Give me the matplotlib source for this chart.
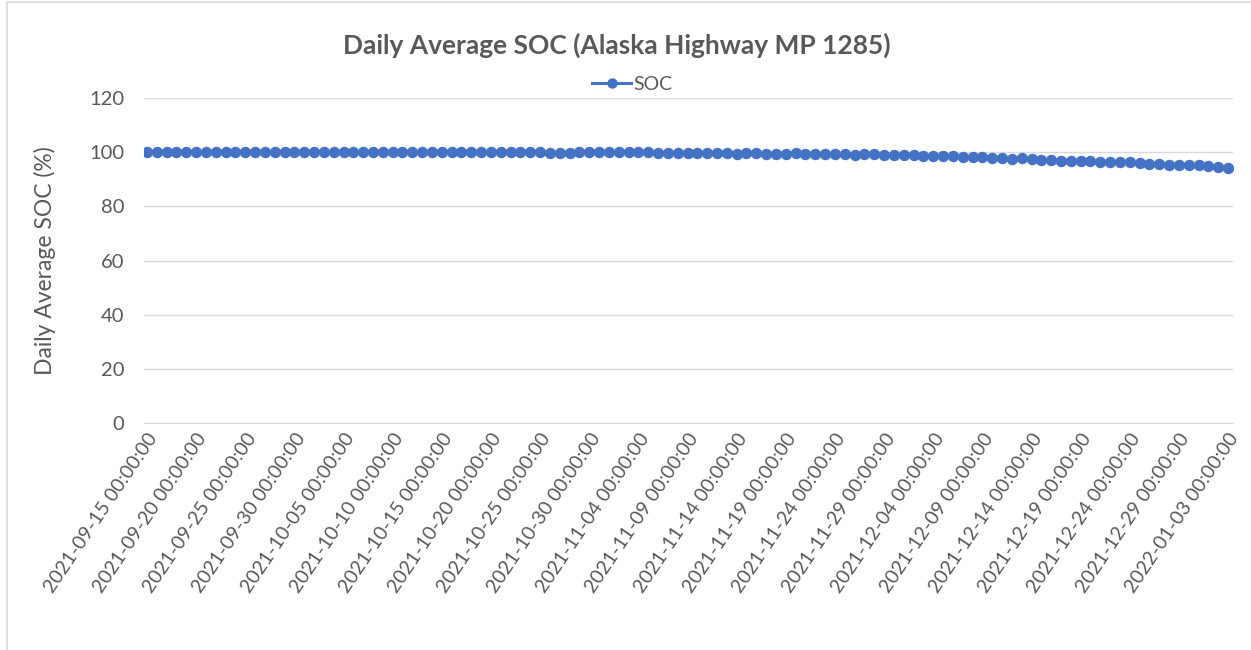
import pandas as pd
import matplotlib.pyplot as plt
from matplotlib.patches import Rectangle

plt.rcParams['font.family'] = ['Lato', 'DejaVu Sans']

# Data: daily average SOC, 2021-09-15 .. 2022-01-03
dates = pd.date_range('2021-09-15', '2022-01-03', freq='D')
soc = [
    100, 100, 100, 100, 100, 100, 100, 100, 100, 100,
    100, 100, 100, 100, 100, 100, 100, 100, 100, 100,
    100, 100, 100, 100, 100, 100, 100, 100, 100, 100,
    100, 100, 100, 100, 100, 100, 99.9, 100, 100, 100,
    99.9, 99.8, 99.6, 99.7, 99.9, 100, 99.9, 100, 99.9, 100,
    99.9, 99.9, 99.8, 99.7, 99.6, 99.6, 99.7, 99.6, 99.7, 99.6,
    99.5, 99.6, 99.6, 99.4, 99.2, 99.5, 99.6, 99.5, 99.4, 99.3,
    99.4, 99.2, 99.0, 99.3, 99.4, 99.1, 98.9, 98.8, 99.0, 98.7,
    98.6, 98.7, 98.5, 98.3, 98.1, 98.2, 98.0, 97.7, 97.5, 97.8,
    97.4, 97.2, 97.0, 96.8, 96.6, 96.9, 96.6, 96.3, 96.5, 96.2,
    96.3, 96.0, 95.8, 95.6, 95.4, 95.4, 95.2, 95.1, 94.8, 94.6, 94.3,
]
labels = [d.strftime('%Y-%m-%d %H:%M:%S') for d in dates]

gray = '#595959'
blue = '#4472C4'

fig = plt.figure(figsize=(12.51, 6.5), dpi=100)
ax = fig.add_axes([144 / 1251, 1 - 423 / 650, (1233 - 144) / 1251, (423 - 98) / 650])

x = list(range(len(soc)))
ax.plot(x, soc, color=blue, linewidth=2.2, marker='o', markersize=7.2, label='SOC')

ax.set_ylim(0, 120)
ax.set_yticks(range(0, 121, 20))
ax.set_xlim(-0.3, len(soc) - 1 + 0.5)
ax.set_xticks(x[::5])
ax.set_xticklabels(labels[::5], rotation=56, ha='right', rotation_mode='anchor',
                   fontsize=14, color=gray)
ax.tick_params(axis='y', labelsize=14.5, colors=gray, length=0, pad=14)
ax.tick_params(axis='x', length=0, pad=5)

ax.grid(axis='y', color='#d9d9d9', linewidth=1)
ax.set_axisbelow(True)
for s in ['top', 'right', 'left']:
    ax.spines[s].set_visible(False)
ax.spines['bottom'].set_color('#d9d9d9')

ax.set_ylabel('Daily Average SOC (%)', fontsize=16.5, color=gray, labelpad=24)

fig.text(617 / 1251, 1 - 45 / 650, 'Daily Average SOC (Alaska Highway MP 1285)',
         ha='center', va='center', fontsize=19, fontweight='bold', color=gray)
fig.legend(loc='center', bbox_to_anchor=(632 / 1251, 1 - 84 / 650), frameon=False,
           fontsize=14, labelcolor=gray, handlelength=2.0, handletextpad=0.1,
           markerscale=0.9)

fig.patches.append(Rectangle((7 / 1251, -0.01), 1.0, 1 - 2 / 650 + 0.01,
                             transform=fig.transFigure, fill=False,
                             edgecolor='#d9d9d9', linewidth=1.2))

fig.savefig('out.png', dpi=100)
